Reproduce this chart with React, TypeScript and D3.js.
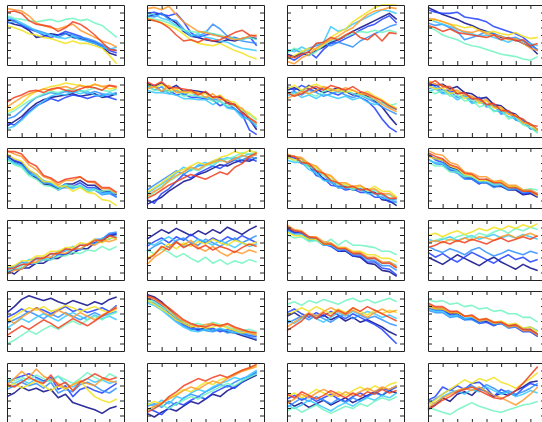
import { useEffect, useRef } from "react";
import * as d3 from "d3";

const W = 542;
const H = 422;

// jet-like palette, one colour per series (navy ... red)
const colors = ["#0a0a8a", "#1f3fff", "#2f8fff", "#38c8ff", "#70f5c0", "#f2e21e", "#ff9a2a", "#f0401e"];
const xTicks = [2, 4, 6, 8, 10, 12, 14];
const yTicks = [1.25, 2.5, 3.75, 5, 6.25, 7.5, 8.75];

const p11 = [
  [7.2, 6.8, 6.5, 5.8, 4.6, 4.8, 5.2, 5.0, 5.3, 4.6, 4.4, 4.0, 3.6, 3.0, 2.0, 1.6],
  [7.6, 7.4, 6.6, 6.0, 5.6, 5.0, 4.6, 5.0, 5.6, 5.2, 4.8, 4.2, 3.8, 3.2, 2.4, 2.0],
  [7.0, 7.2, 6.8, 6.2, 5.8, 5.4, 5.0, 4.6, 5.2, 5.0, 4.6, 4.4, 4.0, 3.4, 2.8, 2.4],
  [8.0, 7.6, 7.0, 6.4, 5.6, 5.2, 5.0, 4.6, 4.4, 4.8, 4.2, 4.0, 3.6, 3.0, 2.6, 3.0],
  [8.2, 7.8, 7.6, 7.4, 7.2, 7.4, 7.6, 7.2, 7.6, 7.8, 7.4, 7.6, 7.0, 6.6, 5.6, 4.6],
  [6.6, 6.2, 5.8, 5.2, 5.0, 4.6, 4.4, 4.0, 3.6, 4.0, 3.6, 3.6, 3.2, 2.8, 1.6, 0.2],
  [9.4, 9.2, 9.0, 8.2, 7.0, 6.6, 6.2, 6.0, 6.4, 6.8, 5.8, 5.2, 4.6, 4.0, 3.6, 3.0],
  [8.8, 9.0, 8.6, 7.4, 6.8, 6.6, 6.4, 5.6, 6.2, 7.2, 6.8, 6.0, 5.0, 3.8, 2.6, 2.4],
];
const p12 = [
  [8.0, 8.4, 8.6, 7.8, 7.0, 5.6, 4.8, 4.6, 4.2, 4.0, 3.8, 4.2, 4.0, 4.4, 4.6, 4.4],
  [8.6, 8.8, 8.4, 8.2, 8.6, 7.2, 5.4, 4.6, 5.0, 5.2, 4.8, 4.4, 4.6, 4.2, 4.8, 3.2],
  [8.2, 8.0, 8.6, 7.6, 7.4, 6.0, 5.0, 4.8, 5.4, 6.8, 6.0, 4.8, 4.4, 4.0, 3.8, 3.6],
  [8.6, 8.4, 7.8, 7.4, 6.6, 5.8, 4.8, 5.2, 4.6, 4.4, 4.0, 3.8, 3.2, 2.8, 2.6, 2.4],
  [8.0, 7.6, 7.4, 7.0, 6.4, 5.8, 5.6, 5.4, 5.6, 5.2, 5.0, 4.6, 4.4, 4.2, 4.6, 4.2],
  [7.8, 7.4, 7.0, 6.6, 6.0, 5.2, 4.2, 3.6, 3.4, 3.2, 3.6, 3.0, 2.4, 2.0, 1.4, 1.0],
  [9.4, 9.6, 9.2, 9.8, 8.4, 7.2, 6.4, 5.6, 5.4, 5.0, 4.8, 4.6, 4.2, 4.4, 4.8, 5.0],
  [7.6, 7.4, 7.0, 6.2, 5.0, 4.0, 4.2, 3.8, 4.4, 4.0, 4.2, 4.8, 5.4, 5.8, 5.0, 4.8],
];
const p13 = [
  [1.8, 1.4, 2.0, 1.6, 2.4, 3.0, 3.8, 4.2, 4.8, 5.6, 6.2, 6.8, 7.4, 8.0, 8.6, 7.6],
  [1.4, 0.8, 1.6, 2.2, 1.2, 2.6, 3.6, 3.8, 4.4, 5.0, 5.8, 6.4, 6.8, 7.6, 8.2, 7.0],
  [2.2, 2.6, 2.0, 2.8, 3.2, 3.6, 3.2, 3.8, 3.4, 3.0, 4.0, 4.6, 5.2, 5.8, 6.4, 6.8],
  [2.6, 2.2, 3.0, 2.4, 3.4, 3.8, 6.4, 5.6, 6.0, 6.8, 7.4, 8.0, 8.6, 9.2, 9.0, 8.6],
  [2.0, 2.8, 2.4, 1.6, 2.2, 3.4, 4.0, 4.4, 4.8, 5.2, 5.6, 5.4, 5.8, 5.4, 5.8, 5.4],
  [1.0, 1.6, 2.2, 2.8, 2.6, 3.4, 4.6, 5.4, 6.0, 7.2, 8.0, 8.8, 9.6, 10, 10, 10],
  [0.6, 0.2, 1.2, 1.8, 2.8, 3.6, 4.2, 4.8, 5.6, 6.2, 7.4, 8.4, 9.0, 9.2, 9.6, 9.4],
  [1.6, 1.2, 1.8, 2.2, 3.6, 3.8, 4.6, 4.2, 5.0, 5.6, 4.6, 4.2, 5.2, 4.0, 5.4, 5.2],
];
const p14 = [
  [9.6, 9.0, 8.4, 8.0, 7.6, 7.0, 6.6, 6.0, 5.6, 5.2, 4.6, 4.4, 4.2, 3.6, 3.0, 1.8],
  [9.2, 8.8, 8.6, 8.6, 8.8, 8.0, 7.8, 7.6, 7.2, 6.4, 6.0, 5.6, 5.2, 4.6, 3.6, 2.4],
  [7.0, 6.6, 6.8, 6.2, 5.6, 4.2, 4.6, 5.0, 5.6, 5.2, 4.8, 4.4, 4.6, 4.0, 3.2, 2.6],
  [7.8, 7.2, 6.8, 6.4, 6.0, 5.4, 5.2, 4.8, 5.0, 4.6, 4.2, 3.8, 4.4, 4.0, 3.6, 3.2],
  [6.4, 5.8, 5.0, 4.6, 4.2, 3.6, 3.2, 3.0, 2.6, 2.2, 1.8, 1.6, 1.4, 1.0, 0.8, 1.4],
  [7.4, 7.6, 7.2, 6.8, 6.6, 6.2, 6.4, 5.8, 5.4, 5.6, 5.2, 5.0, 5.4, 4.8, 4.4, 4.6],
  [7.8, 7.6, 7.2, 6.8, 6.0, 5.6, 5.4, 5.8, 5.2, 5.0, 4.8, 4.2, 4.4, 3.6, 2.8, 2.4],
  [6.6, 6.2, 5.6, 6.0, 5.4, 5.2, 5.0, 4.8, 4.6, 5.0, 4.2, 4.6, 4.0, 4.2, 3.2, 3.6],
];

const p21 = [
  [1.8, 2.6, 3.4, 4.6, 5.6, 6.2, 6.6, 6.8, 7.0, 7.2, 6.8, 7.0, 7.2, 6.6, 6.8, 7.2],
  [2.4, 2.0, 3.0, 4.2, 5.2, 5.8, 6.4, 6.0, 6.6, 7.0, 6.8, 6.4, 6.8, 7.0, 6.6, 6.2],
  [3.0, 3.4, 4.4, 5.6, 6.6, 7.0, 7.4, 7.2, 7.6, 7.4, 7.8, 7.2, 7.6, 7.2, 7.0, 7.4],
  [1.4, 1.8, 2.8, 4.0, 5.0, 6.0, 6.8, 7.2, 7.0, 7.6, 7.2, 7.6, 7.0, 6.8, 7.4, 7.0],
  [3.8, 4.4, 5.2, 6.0, 6.6, 7.2, 7.6, 7.4, 7.8, 8.0, 7.6, 7.8, 8.2, 7.8, 7.6, 8.0],
  [4.2, 4.8, 5.6, 6.8, 7.6, 8.0, 8.4, 8.6, 9.0, 8.8, 8.6, 8.4, 8.8, 8.4, 8.0, 8.2],
  [5.0, 5.8, 6.6, 7.2, 7.6, 8.0, 7.8, 8.2, 8.4, 8.0, 8.6, 8.2, 8.8, 8.4, 8.6, 8.2],
  [5.8, 6.6, 7.0, 7.6, 7.8, 7.4, 8.0, 8.2, 7.8, 7.6, 8.0, 8.4, 8.2, 7.8, 8.6, 8.4],
];
const p22 = [
  [9.0, 8.4, 9.0, 8.0, 8.6, 7.6, 7.8, 7.6, 7.4, 6.6, 6.6, 5.8, 5.4, 4.2, 3.0, 1.2],
  [8.2, 8.6, 7.6, 7.8, 7.0, 7.2, 6.6, 6.6, 6.4, 6.2, 5.2, 5.8, 4.6, 3.8, 1.2, 0.4],
  [8.6, 7.8, 8.4, 7.2, 7.8, 7.0, 7.6, 6.6, 6.6, 6.4, 6.0, 5.0, 4.8, 3.6, 2.8, 1.6],
  [7.8, 7.4, 7.4, 7.2, 7.0, 6.4, 6.4, 6.2, 6.2, 5.4, 6.0, 4.8, 4.6, 3.2, 3.0, 2.0],
  [8.4, 7.8, 7.8, 7.6, 7.6, 6.8, 7.0, 6.8, 6.6, 6.0, 6.0, 5.2, 5.2, 4.4, 3.8, 2.8],
  [8.8, 8.2, 8.8, 7.8, 8.0, 7.4, 7.4, 7.2, 7.2, 6.4, 7.0, 6.0, 5.8, 4.6, 4.0, 3.0],
  [8.0, 8.4, 7.6, 8.6, 7.4, 7.6, 7.6, 7.4, 6.6, 7.2, 6.2, 6.2, 5.2, 4.8, 3.2, 2.2],
  [9.2, 8.6, 9.2, 8.2, 8.2, 8.0, 7.8, 7.0, 7.6, 6.6, 6.8, 5.6, 5.4, 4.0, 3.2, 2.4],
];
const p23 = [
  [7.8, 8.2, 7.6, 8.6, 8.0, 7.4, 7.8, 8.2, 7.6, 7.0, 7.4, 6.8, 6.0, 5.0, 3.4, 2.0],
  [8.4, 7.8, 8.6, 8.0, 7.6, 8.2, 7.4, 7.0, 7.6, 7.2, 6.6, 6.0, 4.8, 3.0, 1.6, 0.8],
  [7.2, 7.6, 7.0, 7.8, 7.4, 6.8, 7.2, 7.6, 7.0, 6.6, 7.0, 6.4, 5.8, 5.0, 4.4, 3.8],
  [6.8, 7.4, 6.6, 7.0, 6.4, 7.2, 6.8, 6.4, 6.8, 6.2, 6.6, 5.8, 5.4, 5.8, 5.0, 4.6],
  [7.6, 7.0, 7.8, 7.2, 6.8, 7.6, 8.0, 7.4, 7.8, 7.2, 7.0, 6.6, 6.2, 5.6, 5.2, 5.6],
  [8.0, 8.6, 7.8, 8.4, 8.8, 8.2, 7.6, 8.0, 7.4, 7.8, 7.2, 7.6, 6.8, 6.2, 5.4, 4.8],
  [6.4, 7.0, 7.6, 7.2, 7.8, 8.4, 8.0, 7.6, 8.2, 7.8, 7.2, 7.0, 6.4, 5.4, 4.8, 4.2],
  [7.4, 6.8, 7.2, 8.0, 8.4, 7.8, 8.6, 8.2, 7.8, 8.4, 7.6, 7.2, 6.6, 6.0, 5.2, 4.6],
];
const p24 = [
  [9.0, 8.6, 8.8, 8.0, 8.4, 7.4, 7.2, 6.4, 6.6, 5.4, 5.2, 4.2, 3.8, 2.6, 2.2, 1.2],
  [8.4, 8.8, 7.8, 7.8, 7.2, 7.4, 6.2, 6.6, 5.4, 5.2, 4.2, 4.2, 3.0, 2.8, 1.4, 1.0],
  [8.0, 8.4, 7.4, 7.6, 6.6, 7.0, 5.8, 6.2, 5.0, 5.4, 3.8, 4.2, 2.8, 2.6, 1.4, 1.2],
  [7.6, 8.0, 7.2, 7.2, 6.2, 6.8, 5.6, 5.8, 5.4, 4.4, 4.2, 3.4, 3.0, 2.2, 2.0, 1.0],
  [7.8, 7.2, 7.8, 6.8, 7.0, 6.0, 6.2, 5.0, 5.4, 4.2, 4.6, 3.0, 3.4, 2.0, 1.6, 0.6],
  [8.6, 8.0, 8.2, 7.2, 7.6, 6.4, 6.8, 5.6, 6.0, 4.8, 4.8, 3.8, 3.6, 2.4, 2.0, 1.0],
  [9.4, 8.8, 8.6, 7.8, 7.8, 7.0, 6.8, 6.0, 6.2, 5.0, 5.0, 3.8, 3.6, 2.4, 2.2, 1.2],
  [8.8, 9.4, 8.4, 8.4, 7.2, 7.4, 6.4, 6.4, 5.4, 5.6, 4.4, 4.4, 3.4, 3.0, 2.0, 1.8],
];

const p31 = [
  [8.6, 7.8, 7.4, 5.8, 5.0, 4.0, 3.8, 3.2, 4.0, 4.0, 4.6, 3.8, 3.8, 2.8, 2.8, 2.2],
  [8.8, 8.0, 7.6, 6.2, 5.6, 4.4, 4.0, 3.0, 3.6, 3.6, 4.2, 3.4, 3.4, 2.6, 2.6, 1.8],
  [8.2, 7.6, 7.2, 6.0, 5.2, 4.2, 4.0, 3.4, 3.4, 3.4, 3.6, 2.8, 3.0, 2.2, 2.4, 1.8],
  [8.4, 7.4, 7.0, 5.6, 5.4, 4.6, 4.2, 3.4, 4.0, 3.2, 3.8, 3.0, 3.2, 2.4, 2.6, 2.4],
  [8.0, 7.2, 6.8, 5.4, 4.8, 3.8, 3.6, 3.0, 3.8, 3.6, 3.6, 2.8, 3.0, 2.8, 3.0, 2.4],
  [9.0, 8.2, 7.8, 6.4, 5.6, 4.4, 4.4, 3.6, 3.6, 2.8, 3.4, 2.6, 2.4, 1.4, 1.2, 0.4],
  [9.6, 9.0, 8.6, 7.2, 6.4, 5.2, 4.8, 3.8, 4.6, 4.6, 5.2, 4.4, 4.2, 3.2, 3.2, 2.4],
  [9.4, 9.4, 9.0, 7.6, 7.0, 5.4, 5.0, 4.2, 4.8, 5.0, 5.2, 4.4, 4.4, 3.4, 3.4, 2.6],
];
const p32 = [
  [0.6, 1.2, 1.8, 2.8, 3.6, 4.4, 4.8, 5.6, 6.0, 6.6, 7.2, 7.0, 7.6, 8.0, 7.8, 8.4],
  [1.4, 0.8, 2.4, 3.2, 4.4, 5.6, 5.0, 5.8, 6.4, 7.0, 6.6, 7.4, 8.0, 7.6, 8.2, 7.8],
  [3.0, 3.8, 4.6, 5.4, 6.2, 5.6, 6.4, 7.0, 7.2, 7.8, 8.2, 7.6, 8.4, 8.0, 8.6, 8.2],
  [2.4, 3.2, 4.0, 4.8, 5.8, 6.8, 6.2, 7.2, 7.6, 7.0, 8.0, 8.4, 8.0, 8.6, 9.0, 8.8],
  [1.8, 2.6, 3.6, 4.4, 5.2, 6.0, 6.6, 6.2, 7.0, 7.4, 7.8, 8.2, 8.6, 9.2, 9.0, 9.4],
  [2.6, 3.4, 4.2, 5.2, 6.0, 6.4, 7.0, 7.6, 7.2, 7.8, 8.4, 8.8, 9.4, 9.0, 9.6, 9.2],
  [2.0, 2.8, 3.4, 4.6, 5.4, 6.0, 6.8, 6.4, 7.2, 7.6, 8.0, 7.6, 8.2, 8.8, 8.4, 9.0],
  [1.6, 2.2, 3.0, 3.8, 4.4, 5.0, 5.6, 5.2, 4.8, 5.4, 6.0, 5.6, 6.8, 7.4, 8.6, 9.2],
];
const p33 = [
  [8.8, 8.4, 8.2, 7.0, 6.2, 4.8, 4.4, 3.4, 3.6, 3.0, 3.2, 2.6, 2.6, 1.4, 1.2, 0.4],
  [8.4, 8.4, 7.4, 7.0, 5.4, 5.0, 3.8, 3.6, 3.0, 3.2, 2.6, 2.6, 1.8, 1.8, 1.0, 1.0],
  [8.2, 8.6, 7.6, 7.2, 5.8, 5.6, 4.2, 4.0, 3.2, 3.6, 3.0, 3.2, 2.4, 2.2, 1.4, 1.4],
  [8.0, 7.6, 7.6, 6.4, 5.8, 4.6, 4.4, 3.4, 3.4, 3.2, 3.2, 2.4, 2.4, 1.6, 1.6, 0.8],
  [8.6, 7.8, 7.8, 6.8, 6.6, 5.4, 4.8, 4.0, 3.8, 3.0, 3.6, 2.8, 3.0, 2.2, 2.2, 1.4],
  [8.4, 8.0, 8.2, 7.2, 6.8, 5.6, 5.2, 4.0, 4.0, 3.4, 3.6, 3.0, 3.6, 2.8, 2.8, 1.8],
  [9.0, 8.6, 8.4, 7.4, 7.0, 5.8, 5.4, 4.2, 4.2, 3.6, 3.8, 3.0, 3.2, 2.4, 2.4, 1.6],
  [8.6, 8.6, 7.6, 7.4, 6.2, 5.8, 4.6, 4.2, 3.4, 3.6, 3.0, 3.2, 2.4, 2.4, 1.6, 1.6],
];
const p34 = [
  [8.8, 8.2, 8.0, 6.8, 6.4, 5.2, 5.0, 4.2, 4.2, 3.6, 3.6, 3.0, 3.0, 2.2, 2.4, 1.8],
  [9.0, 8.0, 7.6, 6.4, 6.0, 5.0, 4.8, 4.0, 4.8, 4.0, 4.0, 3.2, 3.2, 2.4, 2.6, 2.0],
  [8.2, 7.4, 7.2, 6.2, 5.8, 4.8, 4.8, 4.2, 4.2, 3.4, 3.8, 3.0, 3.2, 2.6, 2.8, 2.2],
  [8.0, 7.6, 7.4, 6.6, 6.2, 5.4, 5.2, 4.4, 4.4, 3.8, 4.0, 3.2, 3.4, 2.8, 3.0, 2.4],
  [7.6, 7.0, 7.0, 6.0, 6.0, 5.2, 5.2, 4.6, 4.6, 4.0, 4.0, 3.4, 3.6, 3.0, 3.2, 3.0],
  [8.6, 8.2, 8.0, 7.0, 6.6, 5.6, 5.4, 4.6, 4.6, 4.4, 4.4, 3.6, 3.6, 2.8, 2.8, 2.0],
  [9.6, 9.0, 8.8, 7.6, 7.2, 6.0, 5.8, 5.2, 5.2, 4.4, 4.6, 3.8, 3.8, 3.0, 3.0, 2.4],
  [9.2, 8.6, 8.2, 7.2, 6.8, 5.8, 5.6, 4.8, 4.8, 4.2, 4.2, 3.4, 3.4, 2.8, 2.8, 2.2],
];

const p41 = [
  [1.6, 1.0, 2.0, 2.0, 2.8, 2.8, 3.6, 3.6, 4.4, 4.4, 5.2, 5.2, 6.2, 6.4, 7.4, 7.6],
  [1.2, 1.8, 1.8, 2.6, 2.8, 3.4, 3.4, 4.2, 4.2, 5.0, 5.0, 6.0, 6.2, 6.8, 7.6, 7.8],
  [2.0, 2.2, 3.0, 2.8, 3.6, 3.6, 4.4, 4.2, 5.0, 5.0, 5.8, 5.8, 6.8, 6.8, 7.8, 8.0],
  [1.8, 2.2, 2.4, 3.4, 3.4, 3.6, 3.8, 4.8, 4.8, 5.6, 5.0, 6.0, 6.0, 7.0, 6.8, 7.4],
  [1.4, 2.0, 2.0, 2.8, 2.8, 3.4, 3.4, 4.0, 4.0, 4.6, 4.4, 5.0, 4.8, 5.6, 5.0, 5.6],
  [2.2, 2.4, 3.2, 3.2, 4.0, 4.0, 4.8, 4.8, 5.4, 5.4, 6.2, 6.0, 6.8, 6.2, 7.0, 7.0],
  [1.0, 1.6, 1.8, 2.8, 3.0, 3.8, 3.8, 4.6, 4.4, 5.2, 5.2, 6.0, 5.8, 6.6, 6.4, 6.8],
  [1.8, 2.0, 2.6, 2.6, 3.6, 3.6, 4.4, 4.4, 5.2, 5.0, 5.8, 5.8, 6.6, 6.6, 7.4, 7.0],
];
const p42 = [
  [6.8, 7.6, 8.4, 7.8, 8.6, 8.0, 7.4, 8.2, 7.6, 8.4, 7.8, 8.8, 8.2, 7.6, 8.4, 9.0],
  [5.6, 6.4, 7.0, 6.2, 7.2, 6.6, 7.6, 6.8, 6.2, 7.0, 6.4, 7.2, 6.6, 7.4, 6.8, 6.2],
  [4.8, 5.6, 6.2, 5.4, 6.6, 7.0, 6.2, 5.8, 6.8, 6.2, 5.6, 6.4, 7.0, 6.2, 6.8, 7.4],
  [6.2, 5.8, 6.6, 7.2, 6.4, 5.6, 6.0, 6.8, 6.4, 5.8, 6.6, 6.0, 5.4, 6.2, 5.6, 6.0],
  [5.0, 4.4, 5.2, 4.6, 3.8, 4.4, 3.6, 3.0, 3.8, 2.8, 3.4, 2.6, 3.2, 2.8, 3.4, 3.0],
  [3.6, 4.4, 5.4, 6.0, 5.2, 6.2, 5.6, 6.4, 6.0, 6.8, 6.2, 5.8, 6.6, 6.2, 5.8, 6.4],
  [2.6, 3.8, 4.6, 5.6, 6.2, 5.8, 6.6, 5.4, 4.8, 5.6, 4.6, 4.0, 4.8, 4.4, 5.0, 4.6],
  [3.4, 4.2, 5.6, 5.0, 6.4, 5.4, 6.0, 5.2, 5.8, 5.0, 5.6, 5.2, 4.6, 5.4, 6.0, 5.6],
];
const p43 = [
  [8.6, 8.0, 7.8, 7.0, 6.8, 5.8, 5.8, 4.8, 4.8, 4.0, 3.8, 2.8, 2.6, 1.6, 1.4, 0.6],
  [8.4, 7.8, 8.0, 6.8, 6.8, 6.0, 5.6, 4.8, 5.0, 4.0, 4.0, 3.0, 3.0, 2.0, 1.8, 0.8],
  [9.0, 8.2, 8.0, 7.0, 7.0, 6.2, 6.0, 5.2, 5.0, 4.2, 4.2, 3.4, 3.2, 2.4, 2.4, 1.6],
  [8.2, 7.6, 7.6, 6.6, 6.6, 5.8, 5.8, 5.0, 5.2, 4.4, 4.4, 3.6, 3.6, 2.8, 3.0, 2.4],
  [7.6, 7.0, 7.2, 6.4, 6.6, 6.0, 6.8, 5.8, 6.6, 5.8, 5.8, 5.6, 5.4, 4.8, 4.8, 4.2],
  [8.0, 7.4, 7.4, 6.8, 6.8, 6.0, 6.0, 5.4, 5.4, 4.8, 4.8, 4.2, 4.2, 3.6, 3.6, 3.0],
  [9.2, 8.4, 8.2, 7.2, 7.2, 6.4, 6.2, 5.4, 5.4, 4.6, 4.6, 3.8, 3.8, 3.0, 3.0, 2.2],
  [8.8, 8.2, 8.0, 7.2, 7.0, 6.0, 6.0, 5.2, 5.2, 4.4, 4.4, 3.6, 3.6, 2.8, 2.8, 2.0],
];
const p44 = [
  [3.8, 3.2, 2.6, 3.4, 4.2, 3.6, 3.0, 2.4, 3.2, 3.8, 3.0, 2.4, 1.8, 2.6, 2.0, 1.6],
  [4.6, 3.8, 4.4, 3.6, 3.0, 3.8, 4.6, 4.0, 3.4, 2.8, 3.6, 4.2, 3.4, 3.8, 3.0, 3.4],
  [5.6, 5.0, 4.6, 5.2, 4.8, 4.2, 5.0, 5.4, 4.6, 4.0, 4.4, 5.0, 4.6, 4.2, 4.8, 4.4],
  [6.8, 6.4, 6.8, 7.2, 6.6, 7.0, 7.4, 6.8, 7.2, 7.6, 7.0, 7.4, 7.0, 7.6, 7.2, 6.8],
  [6.2, 6.6, 7.0, 6.6, 7.2, 7.6, 7.0, 7.8, 7.4, 8.0, 8.4, 7.8, 8.6, 8.2, 8.8, 8.4],
  [7.4, 7.8, 7.2, 7.8, 8.2, 7.6, 8.0, 8.6, 8.2, 8.8, 8.4, 9.0, 8.6, 9.2, 8.8, 9.4],
  [6.2, 6.6, 6.2, 6.8, 6.4, 7.0, 6.6, 7.2, 7.0, 6.6, 7.2, 7.6, 7.0, 7.4, 7.8, 7.2],
  [5.4, 5.8, 6.4, 6.0, 6.6, 6.2, 6.8, 6.4, 6.0, 6.6, 7.0, 6.4, 6.8, 7.2, 6.8, 7.4],
];

const p51 = [
  [6.4, 7.4, 8.6, 9.2, 8.8, 8.4, 8.8, 8.2, 7.8, 8.4, 8.0, 7.6, 8.2, 7.8, 8.6, 9.0],
  [5.6, 6.2, 7.0, 6.4, 7.2, 6.8, 6.2, 6.8, 7.4, 6.6, 7.0, 6.4, 6.8, 7.2, 6.6, 7.6],
  [4.6, 5.2, 5.8, 6.6, 6.0, 5.4, 6.2, 5.6, 6.4, 5.8, 5.2, 5.8, 6.4, 5.8, 6.2, 6.6],
  [3.8, 4.6, 5.4, 4.8, 5.6, 6.2, 5.6, 5.0, 5.8, 6.4, 5.8, 5.2, 6.0, 5.4, 5.8, 5.2],
  [1.2, 1.8, 2.6, 3.4, 2.8, 3.6, 4.2, 3.6, 4.4, 5.0, 4.4, 5.2, 5.8, 5.2, 6.0, 6.4],
  [5.0, 5.8, 6.6, 7.2, 6.8, 7.4, 6.6, 7.0, 7.6, 7.2, 6.6, 7.0, 7.4, 6.8, 6.4, 7.0],
  [5.4, 4.6, 5.6, 6.4, 7.2, 6.4, 5.8, 6.8, 6.2, 5.6, 6.4, 5.8, 5.2, 6.0, 6.6, 7.4],
  [2.6, 3.4, 4.2, 3.6, 4.4, 5.2, 4.6, 3.8, 4.6, 5.4, 4.8, 4.2, 5.0, 5.8, 6.6, 7.2],
];
const p52 = [
  [9.4, 9.0, 8.2, 7.0, 5.8, 4.6, 4.0, 3.6, 3.8, 3.4, 3.6, 3.2, 3.0, 2.6, 2.2, 1.8],
  [8.8, 8.4, 7.6, 6.4, 5.4, 4.4, 3.8, 3.4, 3.6, 3.8, 3.2, 3.6, 3.4, 3.0, 2.6, 2.4],
  [8.2, 8.0, 7.2, 6.0, 5.0, 4.2, 3.6, 3.8, 3.4, 3.2, 3.6, 3.0, 3.2, 2.8, 2.4, 2.0],
  [8.0, 7.6, 6.8, 5.8, 4.8, 4.0, 3.4, 3.2, 3.6, 3.4, 3.8, 3.4, 3.0, 3.2, 2.8, 2.6],
  [8.6, 8.2, 7.4, 6.6, 5.6, 4.8, 4.4, 4.6, 4.2, 4.8, 4.4, 4.0, 3.6, 3.4, 3.6, 3.2],
  [8.4, 7.8, 7.0, 6.2, 5.2, 4.6, 4.0, 4.2, 3.8, 4.0, 4.4, 3.8, 3.4, 3.0, 3.2, 2.8],
  [9.0, 8.6, 7.8, 6.8, 5.8, 5.0, 4.4, 4.0, 4.4, 4.6, 4.0, 4.4, 3.8, 3.4, 3.0, 2.6],
  [9.2, 8.8, 8.0, 7.2, 6.2, 5.2, 4.6, 4.2, 4.0, 4.4, 4.2, 4.6, 4.0, 3.6, 3.2, 3.0],
];
const p53 = [
  [5.8, 6.4, 5.6, 6.2, 5.4, 6.0, 5.2, 5.8, 5.0, 5.6, 4.8, 5.2, 4.6, 4.0, 3.2, 2.6],
  [6.4, 7.0, 6.2, 5.6, 6.4, 5.8, 6.6, 6.0, 5.4, 6.2, 5.6, 5.0, 4.4, 3.6, 2.4, 1.2],
  [4.6, 5.2, 5.8, 5.2, 6.0, 5.4, 4.8, 5.6, 6.2, 5.4, 6.0, 5.4, 5.8, 5.2, 4.6, 4.2],
  [5.2, 4.6, 5.4, 6.0, 5.4, 4.8, 5.6, 6.4, 5.8, 6.6, 6.0, 6.6, 6.2, 5.6, 6.0, 5.4],
  [7.8, 8.2, 7.6, 8.4, 8.0, 8.6, 8.2, 7.8, 8.4, 8.8, 8.2, 8.6, 8.0, 8.4, 8.8, 8.2],
  [6.0, 6.6, 7.2, 6.6, 7.4, 6.8, 6.2, 7.0, 6.4, 7.2, 6.6, 6.0, 6.8, 6.2, 6.8, 6.4],
  [4.0, 4.8, 5.6, 6.4, 5.8, 6.6, 7.2, 6.6, 6.0, 6.8, 6.2, 5.6, 6.4, 7.0, 6.4, 6.8],
  [3.4, 4.2, 5.0, 6.2, 5.4, 6.4, 5.8, 6.8, 6.2, 7.2, 6.6, 7.4, 6.8, 6.2, 5.6, 5.0],
];
const p54 = [
  [7.6, 7.0, 7.0, 6.2, 6.2, 5.4, 5.4, 4.8, 5.0, 4.4, 4.6, 4.0, 4.2, 3.4, 3.4, 2.6],
  [7.2, 6.8, 6.8, 6.0, 6.0, 5.2, 5.4, 4.6, 4.8, 4.2, 4.8, 4.0, 4.0, 3.2, 3.2, 2.4],
  [6.8, 6.4, 6.4, 5.6, 5.8, 5.2, 5.2, 4.6, 5.2, 4.4, 4.6, 3.8, 4.0, 3.4, 3.6, 2.8],
  [7.0, 6.6, 6.6, 5.8, 6.0, 5.4, 5.6, 5.0, 5.2, 4.6, 4.8, 4.2, 4.4, 3.8, 4.0, 3.4],
  [8.6, 8.2, 8.4, 7.8, 8.0, 7.4, 7.6, 7.0, 7.2, 6.6, 6.8, 6.2, 6.2, 5.6, 5.6, 4.8],
  [7.4, 7.0, 7.0, 6.4, 6.4, 5.8, 5.8, 5.2, 5.4, 4.8, 5.0, 4.4, 4.6, 3.8, 4.0, 3.2],
  [7.8, 7.2, 7.2, 6.4, 6.6, 5.8, 5.8, 5.0, 5.2, 4.6, 4.8, 4.0, 4.2, 3.4, 3.4, 2.6],
  [8.0, 7.4, 7.4, 6.6, 6.6, 5.8, 6.0, 5.2, 5.4, 4.8, 4.8, 4.2, 4.4, 3.6, 3.6, 2.8],
];

const p61 = [
  [4.4, 5.0, 6.0, 5.4, 5.8, 5.2, 5.6, 4.2, 4.8, 3.4, 3.0, 2.6, 2.2, 1.6, 2.4, 2.8],
  [6.8, 7.4, 7.8, 8.2, 7.6, 7.0, 7.6, 5.6, 6.2, 4.4, 5.6, 6.0, 5.4, 5.0, 5.8, 6.6],
  [5.6, 6.2, 6.8, 6.2, 6.6, 5.8, 6.8, 5.0, 5.6, 5.2, 6.4, 6.8, 6.2, 5.4, 5.0, 5.8],
  [7.0, 6.6, 7.2, 6.6, 7.4, 6.8, 7.2, 7.8, 6.6, 6.0, 6.8, 7.4, 6.8, 7.2, 6.6, 7.0],
  [7.4, 7.0, 7.6, 7.2, 8.0, 7.4, 6.8, 7.8, 7.2, 6.6, 7.4, 8.4, 7.6, 7.0, 8.2, 7.6],
  [6.0, 6.6, 5.8, 6.4, 7.0, 6.2, 5.4, 6.2, 5.6, 6.4, 7.0, 5.6, 4.4, 3.8, 3.4, 4.0],
  [6.4, 7.4, 8.6, 7.6, 9.0, 7.8, 7.2, 6.6, 5.8, 6.4, 7.0, 6.6, 6.2, 7.4, 7.0, 6.8],
  [6.4, 6.0, 6.8, 7.6, 7.0, 6.6, 8.0, 6.2, 6.8, 5.4, 6.8, 7.4, 8.2, 7.6, 7.2, 7.6],
];
const p62 = [
  [1.6, 1.0, 1.8, 2.4, 2.0, 2.8, 3.6, 3.2, 4.0, 4.8, 4.4, 5.4, 6.0, 6.8, 7.4, 8.0],
  [2.4, 2.0, 1.4, 2.6, 3.4, 3.0, 3.8, 4.4, 4.0, 5.0, 5.6, 6.2, 5.8, 6.8, 7.6, 8.4],
  [2.8, 3.2, 2.6, 3.6, 3.0, 4.2, 4.8, 4.4, 5.2, 5.8, 6.4, 6.0, 6.8, 7.4, 7.8, 8.6],
  [3.4, 2.8, 3.8, 3.2, 4.4, 4.0, 5.0, 5.6, 5.2, 6.0, 6.6, 7.0, 7.6, 7.2, 8.0, 8.8],
  [2.0, 2.6, 3.0, 2.4, 3.2, 3.8, 4.4, 4.0, 4.8, 5.4, 6.0, 6.6, 6.2, 7.0, 7.6, 8.2],
  [3.0, 3.6, 3.2, 4.2, 4.8, 5.6, 5.2, 6.0, 6.8, 6.4, 7.2, 7.6, 8.2, 8.8, 9.2, 9.6],
  [2.2, 2.8, 3.4, 4.0, 4.6, 5.4, 6.0, 5.6, 6.4, 7.0, 6.6, 7.4, 8.0, 8.6, 9.0, 9.4],
  [1.8, 2.4, 3.2, 4.4, 5.2, 6.2, 6.8, 7.4, 7.0, 7.6, 8.0, 7.6, 8.2, 8.8, 9.2, 9.8],
];
const p63 = [
  [3.6, 2.8, 3.4, 2.6, 3.2, 3.8, 3.0, 3.6, 4.2, 3.4, 4.0, 4.6, 5.2, 4.6, 5.4, 5.0],
  [4.0, 4.6, 3.8, 4.4, 3.6, 4.2, 4.8, 4.0, 3.6, 4.4, 5.0, 4.4, 5.2, 5.8, 5.4, 6.0],
  [2.6, 3.4, 4.2, 3.6, 4.4, 3.8, 3.2, 4.0, 3.4, 4.2, 3.6, 4.4, 5.0, 4.6, 5.6, 6.2],
  [3.0, 2.4, 3.0, 3.8, 3.2, 2.6, 2.0, 2.8, 3.4, 2.8, 3.6, 4.2, 3.8, 4.6, 4.2, 5.0],
  [2.0, 2.6, 1.8, 2.4, 3.0, 2.2, 1.6, 2.2, 2.8, 2.4, 3.2, 2.8, 3.6, 4.2, 3.8, 4.4],
  [4.4, 5.0, 4.2, 4.8, 5.6, 5.0, 4.4, 5.2, 4.6, 5.4, 6.0, 5.4, 6.2, 5.6, 6.4, 6.8],
  [3.2, 4.0, 4.8, 4.2, 5.0, 5.6, 5.0, 4.4, 5.2, 4.6, 5.2, 5.8, 5.2, 6.0, 5.6, 6.2],
  [4.8, 4.2, 5.2, 4.6, 4.0, 4.6, 5.4, 4.8, 4.2, 5.0, 4.4, 5.2, 4.8, 5.6, 5.0, 5.4],
];
const p64 = [
  [2.4, 3.0, 4.2, 3.6, 4.8, 5.2, 4.6, 5.8, 5.2, 4.4, 5.0, 4.6, 5.4, 6.0, 6.8, 7.0],
  [3.8, 4.4, 6.0, 5.4, 6.2, 5.6, 6.6, 6.8, 5.8, 4.4, 5.6, 5.0, 4.6, 5.8, 6.6, 6.2],
  [3.2, 4.0, 4.8, 5.6, 5.0, 5.8, 6.2, 5.6, 6.4, 5.8, 5.0, 5.4, 4.8, 5.2, 5.8, 6.6],
  [3.6, 3.2, 4.4, 5.0, 5.4, 4.8, 5.6, 5.2, 6.0, 5.4, 4.8, 5.2, 4.4, 4.8, 5.4, 5.0],
  [2.6, 2.2, 1.8, 1.4, 2.2, 2.8, 3.4, 2.8, 2.4, 2.0, 1.8, 2.2, 2.6, 3.0, 3.2, 3.6],
  [3.0, 3.8, 4.8, 5.6, 6.4, 7.2, 6.6, 7.4, 7.0, 7.6, 6.8, 6.4, 5.8, 6.6, 7.4, 8.4],
  [2.6, 3.4, 4.2, 4.8, 5.4, 5.8, 5.4, 6.0, 5.2, 4.6, 4.2, 3.6, 3.0, 3.8, 4.8, 6.0],
  [2.2, 3.0, 3.8, 4.4, 5.2, 5.6, 6.0, 5.4, 4.8, 4.2, 4.0, 4.6, 5.4, 6.6, 8.0, 9.4],
];

const panels = [
  [p11, p12, p13, p14],
  [p21, p22, p23, p24],
  [p31, p32, p33, p34],
  [p41, p42, p43, p44],
  [p51, p52, p53, p54],
  [p61, p62, p63, p64],
];

export default function App() {
  const ref = useRef<SVGSVGElement>(null);

  useEffect(() => {
    const svg = d3.select(ref.current);
    svg.selectAll("*").remove();

    const pw = 117;
    const ph = 60;
    const x = d3.scaleLinear().domain([0, 16]).range([0, pw]);
    const y = d3.scaleLinear().domain([0, 10]).range([ph, 0]);
    const line = d3
      .line<number>()
      .x((d, i) => x(i))
      .y((d) => y(d));

    panels.forEach((row, r) => {
      row.forEach((series, c) => {
        const left = Math.round(7 + c * 140.2);
        const top = Math.round(5 + r * 71.5);
        const g = svg.append("g").attr("transform", `translate(${left},${top})`);

        series.forEach((vals, k) => {
          g.append("path")
            .attr("d", line(vals))
            .attr("fill", "none")
            .attr("stroke", colors[k])
            .attr("stroke-width", 1.6)
            .attr("stroke-opacity", 0.85)
            .attr("stroke-linejoin", "round");
        });

        const noLabel = () => "";
        g.append("g")
          .attr("transform", `translate(0,${ph})`)
          .call(d3.axisBottom(x).tickValues(xTicks).tickSizeInner(-4).tickSizeOuter(0).tickFormat(noLabel));
        g.append("g")
          .call(d3.axisTop(x).tickValues(xTicks).tickSizeInner(-4).tickSizeOuter(0).tickFormat(noLabel));
        g.append("g")
          .call(d3.axisLeft(y).tickValues(yTicks).tickSizeInner(-4).tickSizeOuter(0).tickFormat(noLabel));
        g.append("g")
          .attr("transform", `translate(${pw},0)`)
          .call(d3.axisRight(y).tickValues(yTicks).tickSizeInner(-4).tickSizeOuter(0).tickFormat(noLabel));

        g.selectAll(".domain, .tick line").attr("stroke", "#222");
      });
    });
  }, []);

  return (
    <svg
      ref={ref}
      width={W}
      height={H}
      style={{ position: "absolute", left: 0, top: 0, background: "#fff" }}
    />
  );
}
